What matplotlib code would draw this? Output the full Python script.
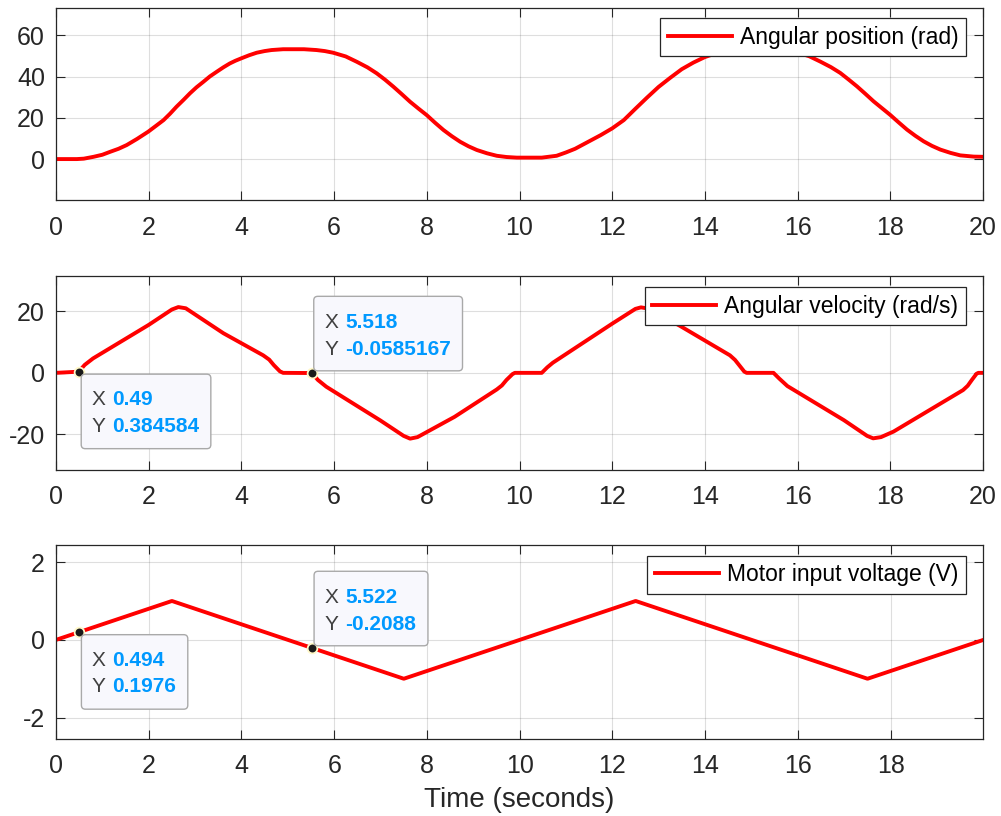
import matplotlib
matplotlib.use('Agg')
import matplotlib.pyplot as plt
from matplotlib.patches import FancyBboxPatch
from matplotlib.transforms import IdentityTransform

# ---------------- data ----------------
pos_t = [0, 0.45, 0.6, 0.81, 1.0, 1.165, 1.35, 1.525, 1.75, 1.99, 2.15, 2.32, 2.46,
         2.60, 2.75, 2.89, 3.03, 3.18, 3.32, 3.47, 3.61, 3.75, 3.87, 4.0, 4.17, 4.33,
         4.5, 4.65, 4.9, 5.35, 5.62, 5.8, 5.98, 6.25, 6.49, 6.72, 6.92, 7.1, 7.28,
         7.46, 7.64, 7.82, 8.0, 8.18, 8.36, 8.54, 8.72, 8.9, 9.08, 9.3, 9.51, 9.72,
         9.94, 10.48, 10.8, 11.0, 11.2, 11.5, 11.75, 12.0, 12.25, 12.5, 12.75, 13.0,
         13.25, 13.5, 13.75, 14.0, 14.3, 14.6, 14.85, 15.4, 15.62, 15.98, 16.25,
         16.49, 16.72, 16.92, 17.1, 17.28, 17.46, 17.64, 17.82, 18.0, 18.18, 18.36,
         18.54, 18.72, 18.9, 19.08, 19.3, 19.51, 19.8, 20.0]
pos_rad = [0, 0, 0.2, 1.1, 2.1, 3.5, 5.0, 6.8, 9.8, 13.3, 16.0, 18.9, 22.0,
           25.4, 28.7, 31.9, 34.8, 37.5, 40.1, 42.4, 44.5, 46.4, 47.7, 48.9, 50.4, 51.6,
           52.4, 52.9, 53.3, 53.3, 52.9, 52.4, 51.6, 49.8, 47.2, 44.5, 41.6, 38.5, 35.1,
           31.5, 27.8, 24.5, 21.3, 17.6, 14.1, 11.1, 8.4, 6.2, 4.4, 2.8, 1.6, 1.0,
           0.7, 0.7, 1.6, 3.2, 5.0, 8.6, 11.6, 14.9, 18.9, 24.4, 29.8, 35.0,
           39.4, 43.6, 46.8, 49.5, 51.8, 53.0, 53.5, 53.5, 53.1, 51.8, 49.9,
           47.3, 44.6, 41.8, 38.6, 35.3, 31.7, 28.0, 24.7, 21.4, 17.8, 14.3,
           11.3, 8.6, 6.4, 4.6, 3.0, 1.8, 1.2, 1.1]

vel_t = [0, 0.49, 0.62, 0.80, 2.0, 2.5, 2.64, 2.8, 3.61, 4.47, 4.60, 4.70, 4.83, 4.9,
         5.52, 5.65, 5.83, 7.0, 7.5, 7.64, 7.8, 8.6, 9.51, 9.62, 9.72, 9.85, 9.9,
         10.48, 10.6, 10.72, 12.0, 12.5, 12.62, 12.78, 13.46, 14.54, 14.65, 14.75,
         14.85, 14.9, 15.48, 15.6, 15.78, 17.0, 17.5, 17.63, 17.8, 18.07, 19.57,
         19.67, 19.76, 19.86, 19.9, 20.0]
vel_rads = [0, 0.38, 2.6, 4.7, 15.6, 20.6, 21.4, 21.0, 12.9, 5.7, 4.3, 2.5, 0.5, 0,
            -0.06, -2.3, -4.5, -15.5, -20.5, -21.4, -20.9, -14.3, -5.4, -4.1, -2.3, -0.4, 0,
            0, 1.8, 3.3, 16.0, 20.8, 21.3, 20.9, 15.3, 5.7, 4.2, 2.3,
            0.4, 0, 0, -1.8, -4.3, -15.4, -20.5, -21.3, -20.9, -19.1, -5.6,
            -4.2, -2.3, -0.3, 0, 0]

volt_t = [0, 2.5, 7.5, 12.5, 17.5, 20]
volt_v = [0, 1, -1, 1, -1, 0]

x_ticks = [0, 2, 4, 6, 8, 10, 12, 14, 16, 18, 20]
x_ticks_bottom = [0, 2, 4, 6, 8, 10, 12, 14, 16, 18]
pos_yticks = [0, 20, 40, 60]
vel_yticks = [-20, 0, 20]
volt_yticks = [-2, 0, 2]
legend_labels = ['Angular position (rad)', 'Angular velocity (rad/s)',
                 'Motor input voltage (V)']
x_label = 'Time (seconds)'

vel_tips_x = [0.49, 5.518]
vel_tips_y = [0.384584, -0.0585167]
vel_tips_xs = ['0.49', '5.518']
vel_tips_ys = ['0.384584', '-0.0585167']
volt_tips_x = [0.494, 5.522]
volt_tips_y = [0.1976, -0.2088]
volt_tips_xs = ['0.494', '5.522']
volt_tips_ys = ['0.1976', '-0.2088']
tip_side = ['below', 'above']

# ---------------- style ----------------
plt.rcParams['font.family'] = ['Liberation Sans', 'DejaVu Sans']
plt.rcParams['axes.unicode_minus'] = False
W, H = 1001, 816
fig = plt.figure(figsize=(W / 100, H / 100), dpi=100)

def rect(l, t, r, b):
    return [l / W, 1 - b / H, (r - l) / W, (b - t) / H]

AX = '#262626'
RED = '#ff0000'
LW = 2.8

ax1 = fig.add_axes(rect(56, 8, 983, 200.3))
ax2 = fig.add_axes(rect(56, 276, 983, 469.7))
ax3 = fig.add_axes(rect(56, 545, 983, 739))

ax1.plot(pos_t, pos_rad, color=RED, lw=LW, solid_joinstyle='round', label=legend_labels[0])
ax2.plot(vel_t, vel_rads, color=RED, lw=LW, solid_joinstyle='round', label=legend_labels[1])
ax3.plot(volt_t, volt_v, color=RED, lw=LW, solid_joinstyle='round', label=legend_labels[2])

ax1.set_ylim(-20, 73.3)
ax2.set_ylim(-31.5, 31.5)
ax3.set_ylim(-2.55, 2.44)
ax1.set_xlim(0, 20)
ax2.set_xlim(0, 20)
ax3.set_xlim(0, 19.99)
ax1.set_yticks(pos_yticks)
ax2.set_yticks(vel_yticks)
ax3.set_yticks(volt_yticks)

leg_anchor = [(0.9817, 0.948), (0.9817, 0.943), (0.9817, 0.945)]
xt_sets = [x_ticks, x_ticks, x_ticks_bottom]
for ax, anc, xt in zip([ax1, ax2, ax3], leg_anchor, xt_sets):
    ax.set_xticks(xt)
    ax.set_xticklabels([str(v) for v in xt])
    ax.tick_params(direction='in', length=6.5, width=0.8, top=True, right=True,
                   color=AX, labelcolor=AX, labelsize=18)
    ax.tick_params(axis='x', pad=11)
    ax.tick_params(axis='y', pad=8)
    ax.grid(True, color=AX, alpha=0.15, lw=0.8)
    ax.set_axisbelow(True)
    for s in ax.spines.values():
        s.set_color(AX)
        s.set_linewidth(0.9)
    leg = ax.legend(loc='upper right', bbox_to_anchor=anc, borderaxespad=0,
                    fancybox=False, edgecolor=AX, framealpha=1, fontsize=16.5,
                    handlelength=2.8, handletextpad=0.35, borderpad=0.33)
    leg.get_frame().set_linewidth(0.9)
    for txt in leg.get_texts():
        txt.set_color('#000000')
    leg.set_zorder(10)

ax3.set_xlabel(x_label, fontsize=20, color=AX, labelpad=6)

# ---------------- data tips ----------------
BLUE = '#0099ff'
TIPTXT = '#404040'
fig.canvas.draw()
renderer = fig.canvas.get_renderer()

def add_tips(ax, xs, ys, sx, sy):
    for i in range(len(xs)):
        px, py = ax.transData.transform((xs[i], ys[i]))
        if tip_side[i] == 'below':
            left = px + 2.5
            top = py - 2.5
            bottom = top - 74.5
            bx, by = py - 33.8, py - 60.3
        else:
            left = px + 2.0
            bottom = py + 2.2
            bx, by = py + 45.0, py + 18.2
        tx = px + 12.5
        texts = []
        for lab, val, base in (('X', sx[i], bx), ('Y', sy[i], by)):
            fig.text(tx, base, lab, transform=IdentityTransform(), fontsize=15,
                     color=TIPTXT, va='baseline', ha='left', zorder=21)
            t = fig.text(tx + 21, base, val, transform=IdentityTransform(),
                         fontsize=15, color=BLUE, fontweight='bold',
                         va='baseline', ha='left', zorder=21)
            texts.append(t)
        right = max(t.get_window_extent(renderer).x1 for t in texts) + 11.5
        box = FancyBboxPatch((left, bottom), right - left, 74.5,
                             boxstyle='round,pad=0,rounding_size=4',
                             transform=IdentityTransform(), fc='#f8f8fd',
                             ec='#a9a9a9', lw=1.0, zorder=20)
        fig.add_artist(box)
        ax.plot([xs[i]], [ys[i]], 'o', ms=7, mfc='#1a1a1a', mec='#fff8c8',
                mew=1.3, zorder=22, clip_on=False)

add_tips(ax2, vel_tips_x, vel_tips_y, vel_tips_xs, vel_tips_ys)
add_tips(ax3, volt_tips_x, volt_tips_y, volt_tips_xs, volt_tips_ys)

fig.savefig('out.png', dpi=100)
